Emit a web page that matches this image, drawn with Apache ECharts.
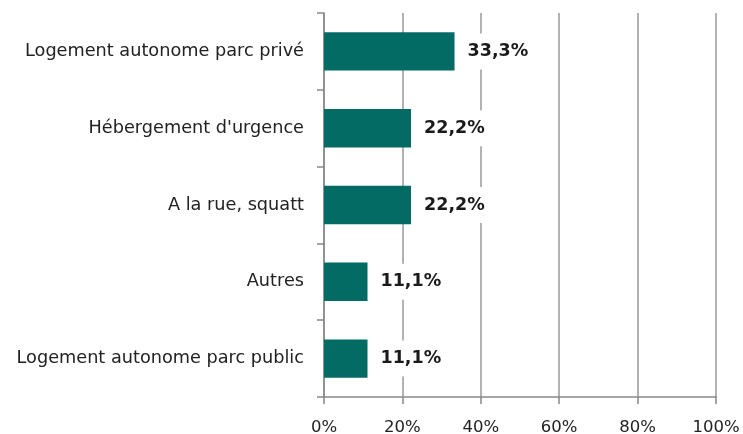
<!DOCTYPE html>
<html lang="fr">
<head>
<meta charset="UTF-8">
<title>Chart</title>
<script src="https://cdn.jsdelivr.net/npm/echarts@6/dist/echarts.min.js"></script>
<style>
  html, body { margin: 0; padding: 0; background: #fff; }
</style>
</head>
<body>
<div id="main" style="width:743px;height:434px;"></div>
<script type="text/javascript">
    // categories (top to bottom) and values in %
    var categories = ['Logement autonome parc privé', "Hébergement d'urgence", 'A la rue, squatt', 'Autres', 'Logement autonome parc public'];
    var values = [33.3, 22.2, 22.2, 11.1, 11.1];
    var tickValues = [0, 20, 40, 60, 80, 100];

    var myChart = echarts.init(document.getElementById('main'));
    var option = {
        animation: false,
        grid: { left: 324, right: 27, top: 13, bottom: 37, containLabel: false, outerBoundsMode: 'none' },
        xAxis: {
            type: 'value',
            min: 0, max: 100, interval: 20,
            axisLine: { show: true, lineStyle: { color: '#888', width: 1.5 } },
            axisTick: { show: true, length: 7, lineStyle: { color: '#888', width: 1.5 } },
            splitLine: { show: true, lineStyle: { color: '#999', width: 1.5 } },
            axisLabel: {
                margin: 22, color: '#222', fontSize: 16.5, fontFamily: 'DejaVu Sans',
                formatter: function (v) { return tickValues.indexOf(v) >= 0 ? v + '%' : ''; }
            }
        },
        yAxis: {
            type: 'category',
            inverse: true,
            data: categories,
            axisLine: { show: true, lineStyle: { color: '#888', width: 1.5 } },
            axisTick: { show: true, length: 7, lineStyle: { color: '#888', width: 1.5 } },
            axisLabel: { margin: 20, color: '#222', fontSize: 17.7, fontFamily: 'DejaVu Sans' }
        },
        series: [{
            type: 'bar',
            data: values,
            barCategoryGap: '50%',
            itemStyle: { color: '#036b64' },
            label: {
                show: true,
                position: 'right',
                distance: 10,
                color: '#1a1a1a',
                fontSize: 17.5,
                fontWeight: 'bold',
                fontFamily: 'DejaVu Sans',
                backgroundColor: '#fff',
                padding: [9, 3],
                formatter: function (p) { return p.value.toFixed(1).replace('.', ',') + '%'; }
            }
        }]
    };
    myChart.setOption(option);
</script>
</body>
</html>
